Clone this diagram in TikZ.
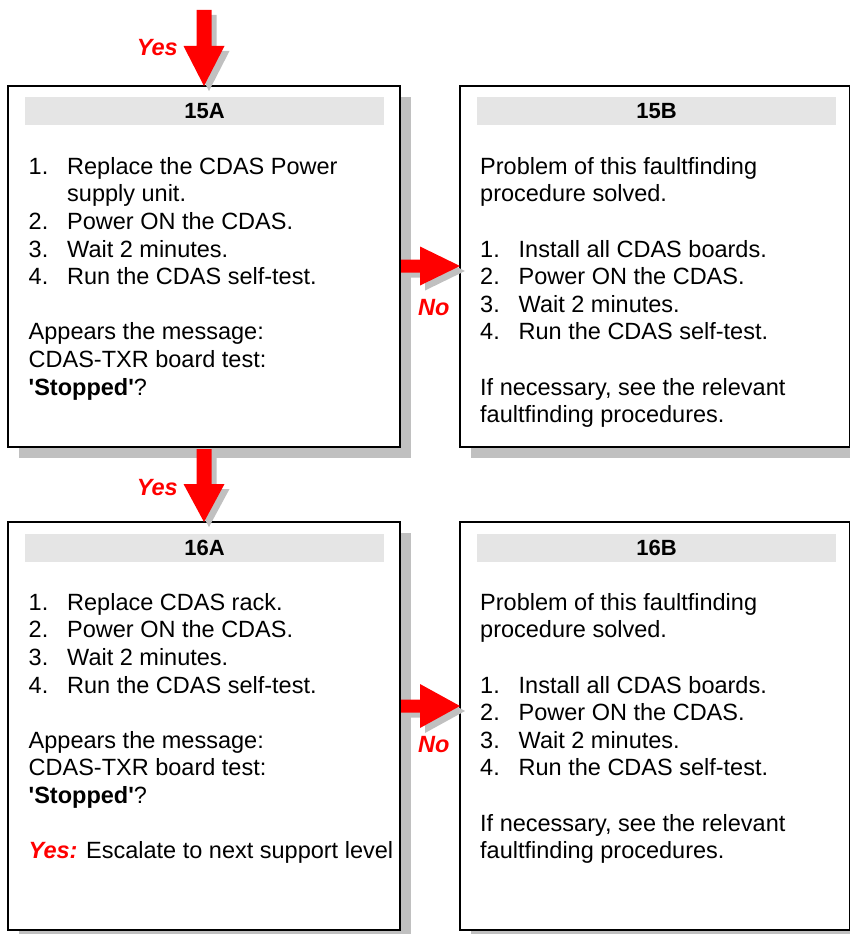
\documentclass[tikz,border=0pt]{standalone}
\usepackage{fontspec}
\setmainfont{Liberation Sans}[Ligatures=TeXOff]
\usetikzlibrary{shadows}
\definecolor{shadowgray}{RGB}{192,192,192}
\definecolor{headgray}{RGB}{229,229,229}
\definecolor{arrred}{RGB}{255,0,0}
\newcommand{\tline}[1]{\hbox{#1}}
\newcommand{\titem}[2]{\hbox{\makebox[38.5pt][l]{#1}#2}}
\newcommand{\tcont}[1]{\hbox{\kern38.5pt #1}}
\newcommand{\tblank}{\hbox{}}
\newcommand{\tbody}[1]{\vtop{\baselineskip=27.6pt\lineskiplimit=-100pt\lineskip=0pt #1}}
% block arrow pointing down: #1 tip name, #2 total length, #3 head length
\newcommand{\downarr}[3]{%
  \fill[shadowgray] ([shift={(5,5)}]#1) -- ++(-20.5,-#3) -- ++(13,0) -- ++(0,{-(#2-#3)}) -- ++(15,0) -- ++(0,{#2-#3}) -- ++(13,0) -- cycle;
  \fill[arrred] (#1) -- ++(-20.5,-#3) -- ++(13,0) -- ++(0,{-(#2-#3)}) -- ++(15,0) -- ++(0,{#2-#3}) -- ++(13,0) -- cycle;}
% block arrow pointing right: #1 tip name, #2 total length, #3 head half height, #4 shaft half height
\newcommand{\rightarr}[4]{%
  \fill[shadowgray] ([shift={(5,5)}]#1) -- ++(-40,-#3) -- ++(0,{#3-#4}) -- ++({-(#2-40)},0) -- ++(0,{2*#4}) -- ++({#2-40},0) -- ++(0,{#3-#4}) -- cycle;
  \fill[arrred] (#1) -- ++(-40,-#3) -- ++(0,{#3-#4}) -- ++({-(#2-40)},0) -- ++(0,{2*#4}) -- ++({#2-40},0) -- ++(0,{#3-#4}) -- cycle;}
\tikzset{
  box/.style={draw=black, line width=2pt, fill=white, outer sep=0pt, inner sep=0pt, anchor=north west,
    general shadow={fill=shadowgray, shadow xshift=11pt, shadow yshift=-11pt}},
  head/.style={fill=headgray, minimum width=359pt, minimum height=28pt, inner sep=0pt,
    font=\fontsize{22}{26}\selectfont\bfseries},
  body/.style={anchor=base west, inner sep=0pt, font=\fontsize{23.5}{27.6}\selectfont},
  lbl/.style={text=arrred, inner sep=0pt, font=\fontsize{23.5}{27}\selectfont\bfseries\itshape}
}
\begin{document}
\begin{tikzpicture}[x=1pt,y=-1pt]
\useasboundingbox (0,0) rectangle (850,934);
% boxes
\node[box, minimum width=392pt, minimum height=361pt] (b15A) at (8,86) {};
\node[box, minimum width=390pt, minimum height=361pt] (b15B) at (460,86) {};
\node[box, minimum width=392pt, minimum height=408pt] (b16A) at (8,522) {};
\node[box, minimum width=390pt, minimum height=408pt] (b16B) at (460,522) {};
% headers
\node[head] (h15A) at (204.5,111) {15A};
\node[head] (h15B) at (656.5,111) {15B};
\node[head] (h16A) at (204.5,548) {16A};
\node[head] (h16B) at (656.5,548) {16B};
% texts
\node[body] (t15A) at (28.5,174.3) {\tbody{%
  \titem{1.}{Replace the CDAS Power}
  \tcont{supply unit.}
  \titem{2.}{Power ON the CDAS.}
  \titem{3.}{Wait 2 minutes.}
  \titem{4.}{Run the CDAS self-test.}
  \tblank
  \tline{Appears the message:}
  \tline{CDAS-TXR board test:}
  \tline{\textbf{'Stopped'}?}}};
\node[body] (t15B) at (480,174.3) {\tbody{%
  \tline{Problem of this faultfinding}
  \tline{procedure solved.}
  \tblank
  \titem{1.}{Install all CDAS boards.}
  \titem{2.}{Power ON the CDAS.}
  \titem{3.}{Wait 2 minutes.}
  \titem{4.}{Run the CDAS self-test.}
  \tblank
  \tline{If necessary, see the relevant}
  \tline{faultfinding procedures.}}};
\node[body] (t16A) at (28.5,610.3) {\tbody{%
  \titem{1.}{Replace CDAS rack.}
  \titem{2.}{Power ON the CDAS.}
  \titem{3.}{Wait 2 minutes.}
  \titem{4.}{Run the CDAS self-test.}
  \tblank
  \tline{Appears the message:}
  \tline{CDAS-TXR board test:}
  \tline{\textbf{'Stopped'}?}
  \tblank
  \tline{\textcolor{arrred}{\bfseries\itshape Yes:} Escalate to next support level}}};
\node[body] (t16B) at (480,610.3) {\tbody{%
  \tline{Problem of this faultfinding}
  \tline{procedure solved.}
  \tblank
  \titem{1.}{Install all CDAS boards.}
  \titem{2.}{Power ON the CDAS.}
  \titem{3.}{Wait 2 minutes.}
  \titem{4.}{Run the CDAS self-test.}
  \tblank
  \tline{If necessary, see the relevant}
  \tline{faultfinding procedures.}}};
% arrows
\coordinate (tipTop) at (b15A.north);
\coordinate (tipMid) at (b16A.north);
\coordinate (tipNo1) at (b15B.west |- 0,266);
\coordinate (tipNo2) at (b16B.west |- 0,706);
\downarr{tipTop}{76}{40}
\downarr{tipMid}{73}{38}
\rightarr{tipNo1}{59}{19.5}{6.5}
\rightarr{tipNo2}{59}{22}{6.5}
% labels
\node[lbl, anchor=base east] (yes1) at (178,56) {Yes};
\node[lbl, anchor=base east] (yes2) at (178,495) {Yes};
\node[lbl, anchor=base west] (no1) at (418,315) {No};
\node[lbl, anchor=base west] (no2) at (418,752) {No};
\end{tikzpicture}
\end{document}
